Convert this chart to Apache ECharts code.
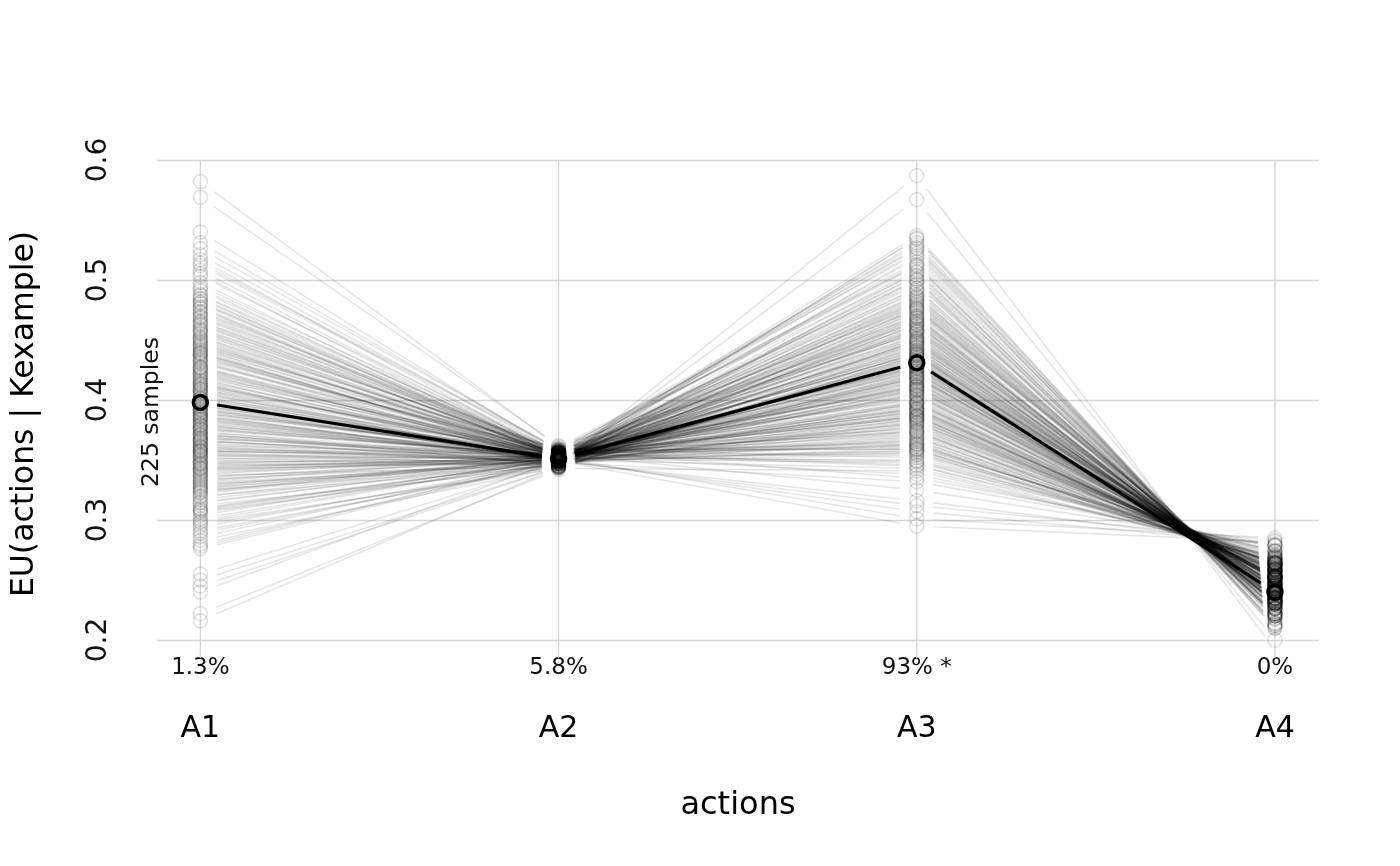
<!DOCTYPE html>
<html><head><meta charset="utf-8">
<script src="https://cdn.jsdelivr.net/npm/echarts@6/dist/echarts.min.js"></script>
<style>html,body{margin:0;padding:0;background:#fff}#c{width:1400px;height:866px}</style>
</head><body><div id="c"></div>
<script>
const categories = ['A1', 'A2', 'A3', 'A4'];
const shareLabels = ['1.3%', '5.8%', '93% *', '0%'];
const yTicks = [0.2, 0.3, 0.4, 0.5, 0.6];
const meanEU = [0.398, 0.351, 0.431, 0.240];
const sampleLabel = '225 samples';
const xTitle = 'actions';
const yTitle = 'EU(actions | Kexample)';

const euA1 = [
0.412,0.356,0.488,0.331,0.402,0.447,0.298,0.379,0.521,0.365,0.433,0.310,0.395,0.470,0.348,
0.384,0.459,0.327,0.418,0.276,0.372,0.495,0.341,0.406,0.452,0.362,0.289,0.437,0.391,0.508,
0.353,0.426,0.319,0.481,0.398,0.337,0.465,0.371,0.245,0.415,0.358,0.442,0.306,0.389,0.476,
0.428,0.344,0.512,0.367,0.401,0.323,0.455,0.381,0.296,0.434,0.350,0.485,0.409,0.334,0.569,
0.376,0.449,0.315,0.421,0.360,0.498,0.343,0.393,0.462,0.283,0.410,0.369,0.440,0.328,0.387,
0.472,0.339,0.404,0.357,0.526,0.385,0.312,0.430,0.364,0.478,0.347,0.222,0.416,0.374,0.451,
0.332,0.397,0.468,0.354,0.424,0.301,0.383,0.503,0.346,0.411,0.370,0.444,0.291,0.399,0.458,
0.361,0.435,0.320,0.480,0.378,0.408,0.338,0.540,0.392,0.352,0.427,0.309,0.463,0.382,0.250,
0.419,0.366,0.491,0.335,0.403,0.446,0.324,0.388,0.474,0.355,0.413,0.286,0.438,0.373,0.517,
0.345,0.422,0.368,0.456,0.308,0.394,0.484,0.351,0.407,0.329,0.443,0.377,0.216,0.431,0.363,
0.466,0.340,0.400,0.453,0.317,0.386,0.505,0.359,0.425,0.294,0.380,0.448,0.336,0.414,0.582,
0.375,0.439,0.326,0.477,0.390,0.349,0.460,0.304,0.417,0.371,0.493,0.342,0.405,0.255,0.432,
0.358,0.469,0.322,0.396,0.441,0.280,0.379,0.514,0.354,0.420,0.333,0.450,0.389,0.307,0.473,
0.401,0.347,0.436,0.368,0.487,0.314,0.392,0.427,0.240,0.361,0.457,0.384,0.330,0.445,0.376,
0.413,0.299,0.464,0.357,0.409,0.531,0.343,0.395,0.482,0.325,0.423,0.366,0.278,0.439,0.386
];
const euA2 = [
0.355,0.346,0.357,0.347,0.357,0.354,0.343,0.353,0.356,0.355,0.350,0.349,0.350,0.358,0.350,
0.349,0.358,0.349,0.350,0.349,0.346,0.357,0.353,0.348,0.356,0.355,0.347,0.350,0.353,0.354,
0.351,0.350,0.353,0.354,0.354,0.345,0.358,0.351,0.344,0.348,0.352,0.355,0.347,0.356,0.352,
0.352,0.352,0.359,0.347,0.352,0.354,0.352,0.352,0.345,0.357,0.349,0.351,0.354,0.347,0.362,
0.353,0.351,0.350,0.357,0.348,0.352,0.353,0.351,0.355,0.344,0.357,0.351,0.350,0.351,0.350,
0.352,0.351,0.350,0.355,0.359,0.350,0.344,0.356,0.351,0.353,0.354,0.342,0.354,0.346,0.356,
0.353,0.351,0.352,0.352,0.353,0.351,0.349,0.357,0.346,0.354,0.350,0.359,0.345,0.352,0.352,
0.349,0.356,0.345,0.356,0.353,0.349,0.354,0.356,0.353,0.345,0.353,0.350,0.354,0.354,0.344,
0.355,0.349,0.355,0.353,0.349,0.355,0.351,0.348,0.358,0.350,0.352,0.350,0.352,0.352,0.353,
0.350,0.350,0.355,0.353,0.350,0.350,0.356,0.353,0.348,0.350,0.352,0.353,0.344,0.357,0.348,
0.353,0.352,0.349,0.355,0.352,0.350,0.352,0.355,0.351,0.348,0.353,0.351,0.350,0.352,0.361,
0.354,0.353,0.351,0.351,0.353,0.347,0.356,0.352,0.351,0.352,0.353,0.349,0.355,0.348,0.349,
0.349,0.356,0.352,0.350,0.350,0.349,0.351,0.360,0.347,0.354,0.353,0.352,0.353,0.347,0.357,
0.353,0.347,0.355,0.352,0.353,0.352,0.351,0.350,0.350,0.348,0.355,0.353,0.345,0.354,0.354,
0.351,0.351,0.354,0.352,0.349,0.358,0.348,0.356,0.355,0.345,0.355,0.350,0.350,0.352,0.352
];
const euA3 = [
0.452,0.398,0.511,0.367,0.436,0.479,0.341,0.420,0.497,0.385,0.463,0.358,0.429,0.522,0.404,
0.443,0.376,0.488,0.414,0.312,0.457,0.529,0.392,0.431,0.470,0.361,0.406,0.484,0.349,0.447,
0.417,0.501,0.372,0.438,0.390,0.466,0.335,0.425,0.507,0.381,0.449,0.411,0.567,0.364,0.476,
0.395,0.459,0.352,0.433,0.518,0.387,0.441,0.301,0.472,0.409,0.368,0.493,0.423,0.378,0.455,
0.486,0.356,0.427,0.401,0.534,0.383,0.445,0.419,0.325,0.468,0.393,0.439,0.504,0.370,0.412,
0.461,0.388,0.432,0.515,0.359,0.408,0.474,0.346,0.421,0.490,0.397,0.450,0.375,0.535,0.426,
0.380,0.468,0.415,0.350,0.499,0.434,0.391,0.456,0.587,0.403,0.363,0.481,0.422,0.446,0.384,
0.509,0.373,0.437,0.462,0.402,0.295,0.428,0.477,0.389,0.520,0.418,0.354,0.453,0.396,0.440,
0.366,0.483,0.410,0.448,0.379,0.527,0.424,0.360,0.465,0.405,0.435,0.343,0.491,0.416,0.458,
0.399,0.444,0.513,0.371,0.430,0.307,0.478,0.386,0.451,0.413,0.496,0.357,0.437,0.464,0.382,
0.424,0.531,0.394,0.460,0.377,0.442,0.487,0.365,0.418,0.332,0.470,0.407,0.449,0.390,0.512,
0.438,0.362,0.475,0.411,0.500,0.384,0.427,0.454,0.348,0.433,0.524,0.397,0.466,0.420,0.374,
0.485,0.404,0.441,0.369,0.463,0.316,0.426,0.506,0.387,0.447,0.412,0.480,0.355,0.435,0.400,
0.457,0.381,0.493,0.422,0.338,0.469,0.408,0.537,0.393,0.444,0.374,0.428,0.482,0.363,0.451,
0.415,0.473,0.386,0.503,0.431,0.359,0.459,0.398,0.526,0.419,0.345,0.476,0.409,0.439,0.392
];
const euA4 = [
0.243,0.252,0.223,0.259,0.245,0.234,0.270,0.245,0.230,0.259,0.235,0.270,0.243,0.220,0.252,
0.240,0.266,0.227,0.253,0.283,0.233,0.213,0.258,0.250,0.231,0.269,0.248,0.230,0.269,0.242,
0.250,0.222,0.266,0.239,0.258,0.237,0.279,0.244,0.221,0.264,0.238,0.252,0.200,0.263,0.235,
0.253,0.239,0.268,0.249,0.217,0.253,0.245,0.285,0.230,0.254,0.268,0.226,0.246,0.264,0.234,
0.231,0.265,0.247,0.253,0.210,0.263,0.239,0.253,0.279,0.231,0.257,0.244,0.226,0.259,0.253,
0.235,0.261,0.242,0.222,0.265,0.253,0.236,0.267,0.250,0.227,0.252,0.245,0.263,0.212,0.247,
0.264,0.232,0.251,0.274,0.222,0.243,0.259,0.234,0.192,0.257,0.264,0.231,0.252,0.240,0.256,
0.220,0.264,0.246,0.233,0.256,0.282,0.245,0.235,0.256,0.220,0.252,0.265,0.241,0.255,0.239,
0.267,0.226,0.253,0.243,0.260,0.218,0.244,0.271,0.233,0.254,0.249,0.269,0.226,0.252,0.235,
0.254,0.243,0.218,0.264,0.250,0.280,0.230,0.262,0.235,0.253,0.227,0.265,0.246,0.232,0.261,
0.250,0.212,0.254,0.239,0.262,0.238,0.231,0.264,0.251,0.278,0.231,0.253,0.237,0.262,0.220,
0.241,0.268,0.235,0.250,0.221,0.260,0.248,0.235,0.274,0.243,0.214,0.258,0.236,0.248,0.258,
0.230,0.251,0.246,0.261,0.238,0.279,0.243,0.226,0.259,0.238,0.253,0.228,0.272,0.245,0.252,
0.239,0.259,0.224,0.251,0.274,0.232,0.256,0.210,0.256,0.243,0.258,0.247,0.233,0.264,0.239,
0.247,0.235,0.260,0.222,0.248,0.263,0.238,0.254,0.214,0.251,0.275,0.230,0.251,0.246,0.255
];

const cols = [euA1, euA2, euA3, euA4];
const nS = euA1.length;
const segData = [];
const ptData = [];
for (let i = 0; i < nS; i++) {
  for (let k = 0; k < cols.length - 1; k++) segData.push([k + 1, cols[k][i], k + 2, cols[k + 1][i]]);
  for (let k = 0; k < cols.length; k++) ptData.push([k + 1, cols[k][i]]);
}
const meanSeg = [];
for (let k = 0; k < meanEU.length - 1; k++) meanSeg.push([k + 1, meanEU[k], k + 2, meanEU[k + 1]]);
const meanPts = meanEU.map((v, k) => [k + 1, v]);
const gridX = categories.map((c, k) => [k + 1]);

const GAP = 17;
function segRender(style) {
  return function (params, api) {
    const a = api.coord([api.value(0), api.value(1)]);
    const b = api.coord([api.value(2), api.value(3)]);
    const dx = b[0] - a[0], dy = b[1] - a[1];
    const L = Math.hypot(dx, dy) || 1;
    const ux = dx / L, uy = dy / L;
    return {
      type: 'line', silent: true,
      shape: { x1: a[0] + ux * GAP, y1: a[1] + uy * GAP, x2: b[0] - ux * GAP, y2: b[1] - uy * GAP },
      style: style
    };
  };
}

const FONT = 'DejaVu Sans';
const chart = echarts.init(document.getElementById('c'), null, { renderer: 'canvas' });
chart.setOption({
  animation: false,
  backgroundColor: '#ffffff',
  textStyle: { fontFamily: FONT },
  grid: { left: 157, right: 81, top: 160, bottom: 226, containLabel: false },
  xAxis: [
    {
      type: 'value', min: 0.879, max: 4.123, position: 'bottom',
      axisLine: { show: false }, axisTick: { show: false }, splitLine: { show: false },
      axisLabel: {
        customValues: [1, 2, 3, 4],
        formatter: v => shareLabels[Math.round(v) - 1],
        fontSize: 23, lineHeight: 23, color: '#111', margin: 17, fontFamily: FONT
      }
    },
    {
      type: 'value', min: 0.879, max: 4.123, position: 'bottom',
      axisLine: { show: false }, axisTick: { show: false }, splitLine: { show: false },
      name: xTitle, nameLocation: 'middle', nameGap: 150,
      nameTextStyle: { fontSize: 32, lineHeight: 32, color: '#000', fontFamily: FONT },
      axisLabel: {
        customValues: [1, 2, 3, 4],
        formatter: v => categories[Math.round(v) - 1],
        fontSize: 30, lineHeight: 30, color: '#000', margin: 74, fontFamily: FONT
      }
    }
  ],
  yAxis: {
    type: 'value', min: yTicks[0], max: yTicks[yTicks.length - 1], interval: 0.1,
    axisLine: { show: false }, axisTick: { show: false },
    splitLine: { show: true, lineStyle: { color: '#d6d6d6', width: 1.3 } },
    axisLabel: {
      rotate: 90, fontSize: 28, lineHeight: 28, color: '#111', margin: 44, fontFamily: FONT,
      formatter: v => v.toFixed(1)
    },
    name: yTitle, nameLocation: 'middle', nameGap: 116, nameRotate: 90,
    nameTextStyle: { fontSize: 31.5, lineHeight: 32, color: '#000', fontFamily: FONT, padding: [0, 28, 0, 0] }
  },
  graphic: [{
    type: 'text', x: 152, y: 412, rotation: Math.PI / 2, silent: true,
    style: { text: sampleLabel, fontSize: 23.5, fontFamily: FONT, fill: '#111', align: 'center', verticalAlign: 'middle' }
  }],
  series: [
    {
      type: 'custom', name: 'vgrid', data: gridX, z: 1, silent: true,
      encode: { x: 0 },
      renderItem: function (params, api) {
        const top = api.coord([api.value(0), yTicks[yTicks.length - 1]]);
        const bot = api.coord([api.value(0), yTicks[0]]);
        return { type: 'line', shape: { x1: top[0], y1: top[1], x2: bot[0], y2: bot[1] + 18 },
          style: { stroke: '#d6d6d6', lineWidth: 1.3 } };
      }
    },
    {
      type: 'custom', name: 'samples', data: segData, z: 2, silent: true,
      dimensions: ['x1', 'y1', 'x2', 'y2'],
      encode: { x: [0, 2], y: [1, 3] },
      renderItem: segRender({ stroke: 'rgba(0,0,0,0.1)', lineWidth: 1.6 })
    },
    {
      type: 'scatter', name: 'samplePts', data: ptData, z: 3, silent: true,
      symbol: 'circle', symbolSize: 14,
      itemStyle: { color: 'rgba(0,0,0,0)', borderColor: 'rgba(0,0,0,0.13)', borderWidth: 1.4, opacity: 1 }
    },
    {
      type: 'custom', name: 'meanLine', data: meanSeg, z: 4, silent: true,
      dimensions: ['x1', 'y1', 'x2', 'y2'],
      encode: { x: [0, 2], y: [1, 3] },
      renderItem: segRender({ stroke: '#000', lineWidth: 3.2 })
    },
    {
      type: 'scatter', name: 'meanPts', data: meanPts, z: 5, silent: true,
      symbol: 'circle', symbolSize: 14,
      itemStyle: { color: 'rgba(0,0,0,0)', borderColor: '#000', borderWidth: 3.5, opacity: 1 }
    }
  ]
});
</script>
</body></html>
